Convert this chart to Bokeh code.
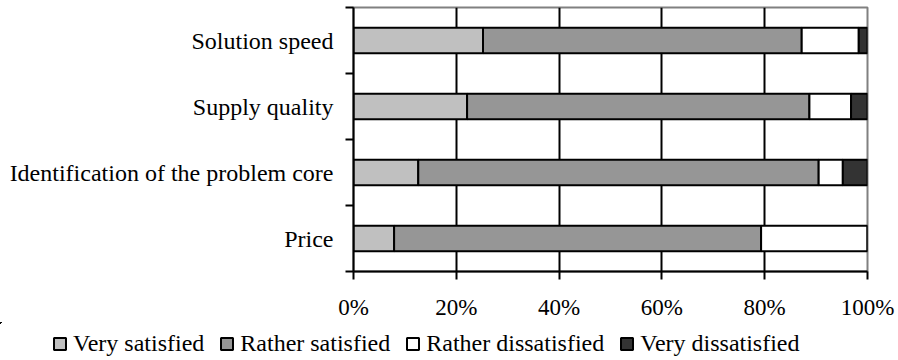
from bokeh.plotting import figure
from bokeh.models import Range1d, FixedTicker, PrintfTickFormatter, ColumnDataSource, Legend, LegendItem
from bokeh.embed import file_html
from bokeh.resources import INLINE

# ---- data (bottom to top) ----
categories = ["Price", "Identification of the problem core", "Supply quality", "Solution speed"]
very_satisfied = [7.9, 12.6, 22.1, 25.2]
rather_satisfied = [71.4, 77.9, 66.6, 62.0]
rather_dissatisfied = [20.7, 4.7, 8.1, 11.1]
very_dissatisfied = [0.0, 4.8, 3.2, 1.7]
series_names = ["Very satisfied", "Rather satisfied", "Rather dissatisfied", "Very dissatisfied"]
series_colors = ["#C0C0C0", "#969696", "#FFFFFF", "#333333"]
x_ticks = [0, 20, 40, 60, 80, 100]
grid_ticks = [20, 40, 60, 80]

keys = ["vs", "rs", "rd", "vd"]
positions = [i + 0.5 for i in range(len(categories))]
bounds = [float(i) for i in range(len(categories) + 1)]
source = ColumnDataSource(dict(y=positions, vs=very_satisfied, rs=rather_satisfied,
                               rd=rather_dissatisfied, vd=very_dissatisfied))

FONT = "Liberation Serif"

p = figure(width=898, height=322, output_backend="svg", toolbar_location=None,
           x_range=Range1d(0, 100), y_range=Range1d(0, len(categories)),
           min_border_left=353, min_border_right=31, min_border_top=7, min_border_bottom=50)

p.hbar_stack(keys, y="y", height=0.39, source=source, fill_color=series_colors,
             line_color="black", line_width=2)

# frame outline
p.outline_line_color = "#808080"
p.outline_line_width = 2
p.background_fill_color = "white"
p.border_fill_color = "white"

# grids
p.ygrid.visible = False
p.xgrid.ticker = FixedTicker(ticks=grid_ticks)
p.xgrid.grid_line_color = "black"
p.xgrid.grid_line_width = 2

# x axis
p.xaxis.ticker = FixedTicker(ticks=x_ticks)
p.xaxis.formatter = PrintfTickFormatter(format="%d%%")
p.xaxis.axis_line_color = "black"
p.xaxis.axis_line_width = 2
p.xaxis.major_tick_line_width = 2
p.xaxis.major_tick_out = 8
p.xaxis.major_tick_in = 0
p.xaxis.minor_tick_out = 0
p.xaxis.minor_tick_in = 0
p.xaxis.major_label_standoff = 15
p.xaxis.major_label_text_font = FONT
p.xaxis.major_label_text_font_size = "23px"
p.xaxis.major_label_text_color = "black"

# y axis: labels at centers, ticks at boundaries
p.yaxis.ticker = FixedTicker(ticks=positions, minor_ticks=bounds)
p.yaxis.major_label_overrides = {pos: cat for pos, cat in zip(positions, categories)}
p.yaxis.axis_line_color = "black"
p.yaxis.axis_line_width = 2
p.yaxis.major_tick_out = 0
p.yaxis.major_tick_in = 0
p.yaxis.minor_tick_out = 8
p.yaxis.minor_tick_in = 0
p.yaxis.minor_tick_line_color = "black"
p.yaxis.minor_tick_line_width = 2
p.yaxis.major_label_standoff = 12
p.yaxis.major_label_text_font = FONT
p.yaxis.major_label_text_font_size = "24px"
p.yaxis.major_label_text_color = "black"

# ---- legend strip below the chart (separate root so it is not frame-aligned) ----
# its ranges lie away from the data, so only the legend swatches of these series show
lp = figure(width=898, height=38, output_backend="svg", toolbar_location=None,
            x_range=Range1d(200, 300), y_range=Range1d(-3, -2),
            x_axis_location=None, y_axis_location=None,
            min_border_left=0, min_border_right=0, min_border_top=0, min_border_bottom=0)
lp.grid.visible = False
lp.outline_line_color = None
lp.background_fill_color = "white"
lp.border_fill_color = "white"

legend_renderers = lp.hbar_stack(keys, y="y", height=0.39, source=source,
                                 fill_color=series_colors, line_color="black", line_width=2)
items = [LegendItem(label=name, renderers=[r]) for name, r in zip(series_names, legend_renderers)]
lg = Legend(items=items, orientation="horizontal", location=(52, 3),
            padding=0, margin=0, spacing=15, glyph_width=15, glyph_height=15,
            label_standoff=6, border_line_color=None, background_fill_alpha=0,
            label_text_font=FONT, label_text_font_size="24px", label_text_color="black")
lp.add_layout(lg)

open("out.html", "w").write(file_html([p, lp], INLINE))
